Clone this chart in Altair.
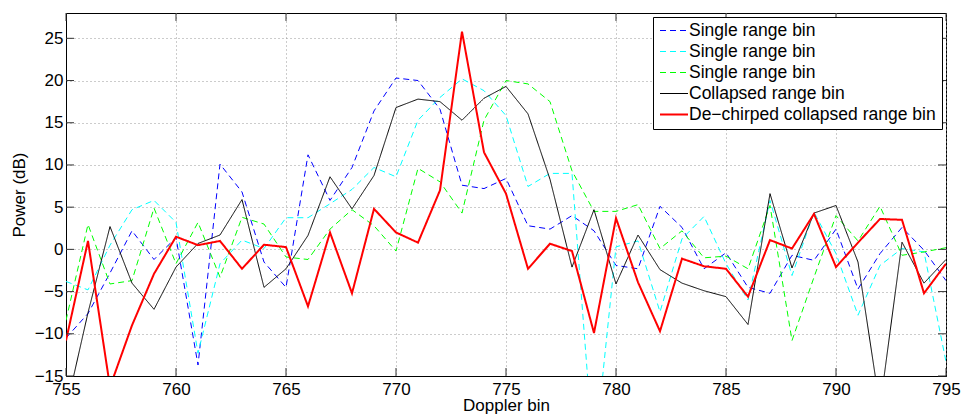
import altair as alt
import pandas as pd

bins = list(range(755, 796))

series_names = [
    "Single range bin",
    "Single range bin ",
    "Single range bin  ",
    "Collapsed range bin",
    "De\u2212chirped collapsed range bin",
]

blue = [-10.5, -7.6, -2.8, 2.2, -1.2, 1.4, -13.7, 10.1, 6.8, -1.5,
        -4.5, 11.2, 5.8, 9.7, 16.4, 20.3, 20.0, 16.6, 7.6, 7.2,
        8.4, 2.8, 2.4, 4.0, 2.2, -1.9, -2.3, 5.1, 2.6, -2.3,
        -0.4, -4.5, -5.2, -0.7, -1.3, 2.4, -4.7, -0.5, 2.6, -0.1,
        -3.7]
cyan = [-3.8, -4.8, 0.5, 4.7, 5.8, 3.2, -12.3, -1.7, 1.1, 0.1,
        3.75, 3.75, 5.4, 7.1, 9.7, 8.6, 15.3, 18.0, 20.2, 18.8,
        15.85, 7.45, 9.0, 9.0, -25.0, 0.3, 1.0, -7.4, 1.25, 3.9,
        -1.7, -6.0, 5.8, -3.1, 4.4, -0.5, -7.8, -1.9, 0.1, -0.3,
        -13.3]
green = [-8.4, 2.95, -4.1, -3.7, 4.9, -1.7, 3.2, -3.3, 3.8, 3.0,
         -0.9, -1.2, 2.4, 4.7, 2.8, -0.2, 9.6, 8.0, 4.3, 15.3,
         20.0, 19.6, 17.5, 9.3, 4.5, 4.5, 5.3, 0.1, 2.2, -1.0,
         -0.8, -2.3, 5.2, -10.8, -3.3, 4.0, 1.0, 5.1, -0.7, -0.3,
         0.2]
collapsed = [-19.0, -7.5, 2.7, -4.0, -7.1, -2.1, 0.7, 1.7, 5.9, -4.5,
             -2.3, 1.65, 8.6, 4.8, 8.75, 16.8, 17.8, 17.5, 15.3, 17.9,
             19.3, 16.05, 8.3, -2.1, 4.7, -4.1, 1.7, -2.4, -4.0, -4.9,
             -5.6, -8.9, 6.6, -2.2, 4.3, 5.2, -1.5, -18.7, 0.85, -4.0,
             -1.2]
dechirped = [-10.8, 1.0, -16.3, -9.0, -2.9, 1.5, 0.5, 1.0, -2.3, 0.55,
             0.27, -6.75, 2.0, -5.2, 4.8, 2.0, 0.8, 7.0, 25.8, 11.5,
             6.6, -2.3, 0.67, -0.2, -9.9, 3.7, -3.9, -9.7, -1.1, -2.0,
             -2.3, -5.6, 1.1, 0.1, 4.2, -2.1, 0.8, 3.6, 3.5, -5.2,
             -1.7]

x_ticks = [755, 760, 765, 770, 775, 780, 785, 790, 795]
y_ticks = [-15, -10, -5, 0, 5, 10, 15, 20, 25]

colors = ["#0000ff", "#00ffff", "#00ff00", "#000000", "#ff0000"]
dashes = [[6, 4], [6, 4], [6, 4], [1, 0], [1, 0]]
widths = [1, 1, 1, 1, 2]

all_series = [blue, cyan, green, collapsed, dechirped]
rows = []
for name, vals in zip(series_names, all_series):
    for b, v in zip(bins, vals):
        rows.append({"bin": b, "power": v, "series": name})
df = pd.DataFrame(rows)

W, H = 880, 363
FONT = "Liberation Sans"

xscale = alt.Scale(domain=[755, 795], nice=False, zero=False)
yscale = alt.Scale(domain=[-15, 28], nice=False, zero=False)
xaxis = alt.Axis(values=x_ticks, format="d", labelPadding=5, titlePadding=0)
yaxis = alt.Axis(values=y_ticks, format="d", labelPadding=3, titlePadding=6)

legend = alt.Legend(title=None, orient="top-right", offset=4, padding=6,
                    fillColor="white", strokeColor="black",
                    labelFont=FONT, labelFontSize=17.5, labelColor="black",
                    labelLimit=400, labelOffset=0,
                    symbolType="stroke", symbolSize=784,
                    clipHeight=15, rowPadding=3)

lines = alt.Chart(df).mark_line(clip=True).encode(
    x=alt.X("bin:Q", scale=xscale, axis=xaxis, title="Doppler bin"),
    y=alt.Y("power:Q", scale=yscale, axis=yaxis, title="Power (dB)"),
    color=alt.Color("series:N", scale=alt.Scale(domain=series_names, range=colors),
                    sort=series_names, legend=legend),
    strokeDash=alt.StrokeDash("series:N", scale=alt.Scale(domain=series_names, range=dashes),
                              sort=series_names, legend=legend),
    strokeWidth=alt.StrokeWidth("series:N",
                                scale=alt.Scale(type="ordinal", domain=series_names, range=widths),
                                sort=series_names, legend=legend),
)

xt = pd.DataFrame({"t": x_ticks})
yt = pd.DataFrame({"t": y_ticks})

tick_top = alt.Chart(xt).mark_rule(color="#333333").encode(
    x=alt.X("t:Q", scale=xscale, axis=xaxis, title="Doppler bin"),
    y=alt.value(0), y2=alt.value(8))
tick_bot = alt.Chart(xt).mark_rule(color="#333333").encode(
    x=alt.X("t:Q", scale=xscale, axis=xaxis, title="Doppler bin"),
    y=alt.value(H - 8), y2=alt.value(H))
tick_left = alt.Chart(yt).mark_rule(color="#333333").encode(
    y=alt.Y("t:Q", scale=yscale, axis=yaxis, title="Power (dB)"),
    x=alt.value(0), x2=alt.value(8))
tick_right = alt.Chart(yt).mark_rule(color="#333333").encode(
    y=alt.Y("t:Q", scale=yscale, axis=yaxis, title="Power (dB)"),
    x=alt.value(W - 8), x2=alt.value(W))

chart = alt.layer(lines, tick_top, tick_bot, tick_left, tick_right).properties(
    width=W, height=H,
    autosize=alt.AutoSizeParams(type="none"),
    padding={"left": 66, "top": 13, "right": 16, "bottom": 39},
    background="white",
).configure_view(
    stroke="black", strokeWidth=1
).configure_axis(
    labelFont=FONT, labelFontSize=17, labelColor="black",
    titleFont=FONT, titleFontSize=17, titleFontWeight="normal", titleColor="black",
    domainColor="black", domainWidth=1, ticks=False, tickSize=0,
    grid=True, gridColor="#999999", gridDash=[1, 3], gridWidth=1,
    labelFlush=False,
)

chart.save("out.html", embed_options={"renderer": "svg", "actions": False})
